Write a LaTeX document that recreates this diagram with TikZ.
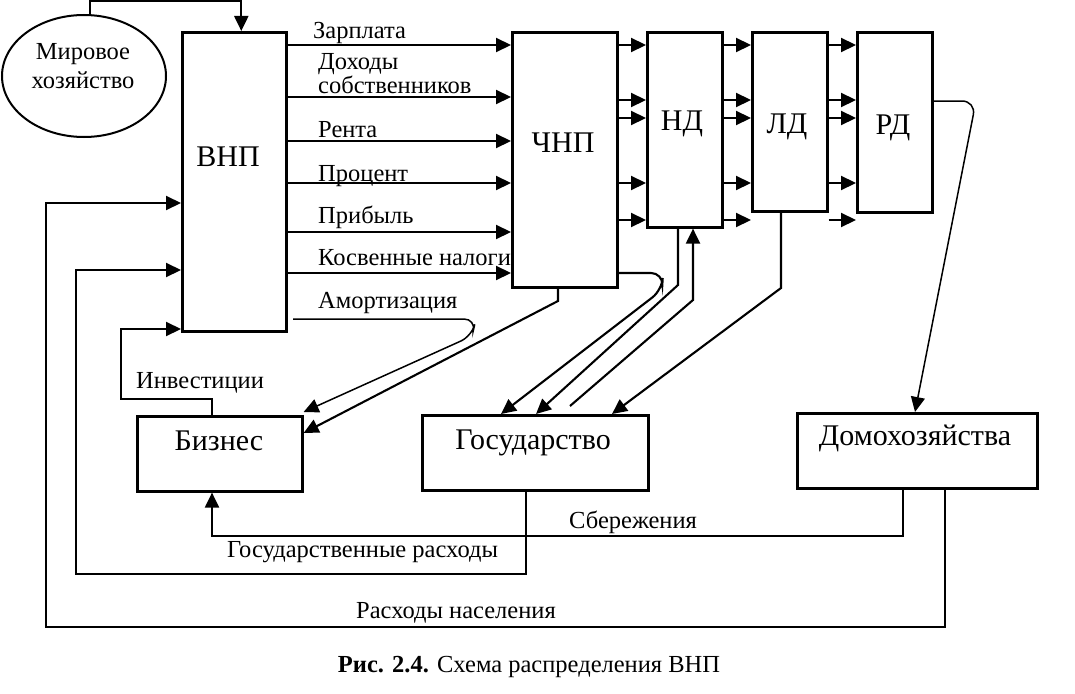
\documentclass[tikz,border=0pt]{standalone}
\usepackage{fontspec}
\setmainfont{Liberation Serif}
\usetikzlibrary{arrows.meta,shapes.geometric}

\begin{document}
\begin{tikzpicture}[x=1pt,y=1pt,yscale=-1,
  blok/.style={draw, line width=2.6pt, inner sep=0pt, anchor=north west},
  bigt/.style={font=\fontsize{30}{34}\selectfont, inner sep=0pt},
  txt/.style={font=\fontsize{24.5}{28}\selectfont, inner sep=0pt, anchor=base west},
  strl/.style={line width=2.1pt, -{Triangle[length=15pt,width=14pt]}},
  tonk/.style={line width=1.5pt}]
\useasboundingbox (0,0) rectangle (1075,693);

%Ellipse
\node[draw, ellipse, line width=2pt, minimum width=164pt, minimum height=122pt] (mir) at (84,76) {};
\node[align=center, font=\fontsize{24.5}{29}\selectfont, inner sep=0pt] (mirT) at (83,66) {Мировое\\хозяйство};

%Shape: Rectangles
\node[blok, minimum width=104pt, minimum height=299pt] (vnp) at (181,31) {};
\node[blok, minimum width=105pt, minimum height=255pt] (chnp) at (511,31) {};
\node[blok, minimum width=75pt, minimum height=195pt] (nd) at (646,31) {};
\node[blok, minimum width=75pt, minimum height=179pt] (ld) at (751,31) {};
\node[blok, minimum width=75pt, minimum height=180pt] (rd) at (856,31) {};
\node[blok, minimum width=165pt, minimum height=75pt] (biz) at (136,415) {};
\node[blok, minimum width=226pt, minimum height=75pt] (gos) at (421,414) {};
\node[blok, minimum width=240pt, minimum height=75pt] (dom) at (796,412) {};

% Box labels
\node[bigt] (vnpT) at (228,157) {ВНП};
\node[bigt] (chnpT) at (563,143) {ЧНП};
\node[bigt] (ndT) at (682,124) {НД};
\node[bigt] (ldT) at (787,127) {ЛД};
\node[bigt] (rdT) at (893,128) {РД};
\node[bigt] (bizT) at (219,441) {Бизнес};
\node[bigt] (gosT) at (533,443) {Государство};
\node[bigt] (domT) at (915,438) {Домохозяйства};

%Straight Lines: world economy
\draw[strl] ([xshift=6pt]mir.north) -- ++(0,-13) -| ([xshift=7pt]vnp.north);

%Straight Lines: VNP -> CHNP
\draw[strl] (vnp.east |- 0,45) -- (chnp.west |- 0,45);
\draw[strl] (vnp.east |- 0,97) -- (chnp.west |- 0,97);
\draw[strl] (vnp.east |- 0,141) -- (chnp.west |- 0,141);
\draw[strl] (vnp.east |- 0,183) -- (chnp.west |- 0,183);
\draw[strl] (vnp.east |- 0,232) -- (chnp.west |- 0,232);
\draw[strl] (vnp.east |- 0,273) -- (chnp.west |- 0,273);

%Straight Lines: CHNP -> ND
\draw[strl] (chnp.east |- 0,45) -- (nd.west |- 0,45);
\draw[strl] (chnp.east |- 0,100) -- (nd.west |- 0,100);
\draw[strl] (chnp.east |- 0,118) -- (nd.west |- 0,118);
\draw[strl] (chnp.east |- 0,183) -- (nd.west |- 0,183);
\draw[strl] (chnp.east |- 0,220) -- (nd.west |- 0,220);

%Straight Lines: ND -> LD
\draw[strl] (nd.east |- 0,45) -- (ld.west |- 0,45);
\draw[strl] (nd.east |- 0,100) -- (ld.west |- 0,100);
\draw[strl] (nd.east |- 0,118) -- (ld.west |- 0,118);
\draw[strl] (nd.east |- 0,183) -- (ld.west |- 0,183);
\draw[strl] (nd.east |- 0,220) -- (ld.west |- 0,220);

%Straight Lines: LD -> RD
\draw[strl] (ld.east |- 0,45) -- (rd.west |- 0,45);
\draw[strl] (ld.east |- 0,100) -- (rd.west |- 0,100);
\draw[strl] (ld.east |- 0,118) -- (rd.west |- 0,118);
\draw[strl] (ld.east |- 0,183) -- (rd.west |- 0,183);
\draw[strl] (ld.east |- 0,220) -- (rd.west |- 0,220);

% Flow labels
\node[txt] (zarT) at (313,39) {Зарплата};
\node[txt, align=left, font=\fontsize{24.5}{20}\selectfont] (dohT) at (318,93) {Доходы\\собственников};
\node[txt] (rentT) at (318,137) {Рента};
\node[txt] (procT) at (318,181) {Процент};
\node[txt] (pribT) at (318,223) {Прибыль};
\node[txt] (kosvT) at (318,265) {Косвенные налоги};
\node[txt] (amorT) at (318,308) {Амортизация};
\node[txt] (invT) at (136,388) {Инвестиции};
\node[txt] (sberT) at (569,528) {Сбережения};
\node[txt] (gosrT) at (227,557) {Государственные расходы};
\node[txt] (rashT) at (356,618) {Расходы населения};

%Curves and lines to Gosudarstvo
\draw[strl, rounded corners=12pt] (chnp.east |- 0,273) -- (663,273) -- (662,290) -- (gos.north -| 501,0);
\draw[strl] (nd.south -| 678,0) -- (678,285) -- (gos.north -| 536,0);
\coordinate (ndin) at (570,406);
\draw[strl] (ndin) -- (693,300) -- (nd.south -| 693,0);
\draw[strl] (ld.south -| 781,0) -- (781,288) -- (gos.north -| 612,0);

%Lines to Biznes
\draw[strl] (chnp.south -| 558,0) -- (558,301) -- (biz.east |- 0,433);
\coordinate (amort) at (293,319);
\draw[strl, tonk, rounded corners=12pt] (amort) -- (476,319) -- (472,336) -- (biz.east |- 0,412);

%Investments
\draw[strl] (biz.north -| 212,0) |- (121,399) |- (vnp.west |- 0,329);

%RD -> households
\draw[strl, tonk, rounded corners=14pt] (rd.east |- 0,101) -- (976,101) -- (dom.north -| 915,0);

%Bottom loops
\draw[strl] (dom.south -| 903,0) |- (212,536) -- (biz.south -| 212,0);
\draw[strl] (gos.south -| 526,0) |- (76,574) |- (vnp.west |- 0,270);
\draw[strl] (dom.south -| 945,0) |- (46,627) |- (vnp.west |- 0,203);

% Caption
\node[font=\fontsize{24.5}{28}\selectfont, inner sep=0pt, anchor=base] (cap) at (529,672) {\textbf{Рис. 2.4.} Схема распределения ВНП};

\end{tikzpicture}
\end{document}
